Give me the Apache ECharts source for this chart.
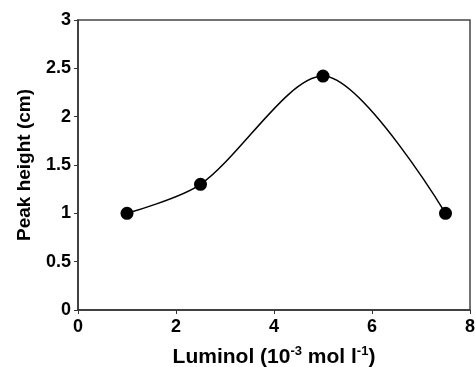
<!DOCTYPE html>
<html>
<head>
<meta charset="utf-8">
<script src="https://cdn.jsdelivr.net/npm/echarts@6/dist/echarts.min.js"></script>
<style>
  html, body { margin: 0; padding: 0; background: #fff; }
  #chart { width: 475px; height: 367px; }
</style>
</head>
<body>
<div id="chart"></div>
<script>
const luminol = [1, 2.5, 5, 7.5];
const peakHeight = [1.0, 1.3, 2.42, 1.0];

const xTicks = [0, 2, 4, 6, 8];
const yTicks = [0, 0.5, 1, 1.5, 2, 2.5, 3];

const chart = echarts.init(document.getElementById("chart"));

const font = "Liberation Sans, Arial, sans-serif";

chart.setOption({
  animation: false,
  grid: {
    left: 78,
    right: 5,
    top: 20,
    bottom: 57,
    outerBoundsMode: "none",
    containLabel: false,
    show: true,
    borderColor: "#444",
    borderWidth: 1.5,
  },
  xAxis: {
    type: "value",
    min: 0,
    max: 8,
    interval: 2,
    name: "{t|Luminol (10}{s|-3}{t| mol l}{s|-1}{t|)}",
    nameLocation: "middle",
    nameGap: 35,
    nameTextStyle: {
      rich: {
        t: { fontFamily: font, fontWeight: "bold", fontSize: 21, color: "#000" },
        s: { fontFamily: font, fontWeight: "bold", fontSize: 13, color: "#000", verticalAlign: "top", padding: [0, 0, 12, 0] },
      },
    },
    axisLine: { lineStyle: { color: "#333", width: 1.5 } },
    axisTick: { show: true, inside: false, length: 4, lineStyle: { color: "#333" } },
    splitLine: { show: false },
    axisLabel: {
      fontFamily: font,
      fontWeight: "bold",
      fontSize: 18,
      color: "#000",
      margin: 8,
      showMaxLabel: true,
      formatter: (v) => (xTicks.includes(v) ? String(v) : ""),
    },
  },
  yAxis: {
    type: "value",
    min: 0,
    max: 3,
    interval: 0.5,
    name: "Peak height (cm)",
    nameLocation: "middle",
    nameRotate: 90,
    nameGap: 44,
    nameTextStyle: { fontFamily: font, fontWeight: "bold", fontSize: 19, color: "#000" },
    axisLine: { show: true, lineStyle: { color: "#333", width: 1.5 } },
    axisTick: { show: true, inside: false, length: 4, lineStyle: { color: "#333" } },
    splitLine: { show: false },
    axisLabel: {
      fontFamily: font,
      fontWeight: "bold",
      fontSize: 18,
      color: "#000",
      margin: 7,
      formatter: (v) => (yTicks.includes(v) ? String(v) : ""),
    },
  },
  series: [
    {
      type: "line",
      data: luminol.map((x, i) => [x, peakHeight[i]]),
      smooth: 0.3,
      symbol: "circle",
      symbolSize: 13,
      itemStyle: { color: "#000" },
      lineStyle: { color: "#000", width: 1.5 },
    },
  ],
});
</script>
</body>
</html>
